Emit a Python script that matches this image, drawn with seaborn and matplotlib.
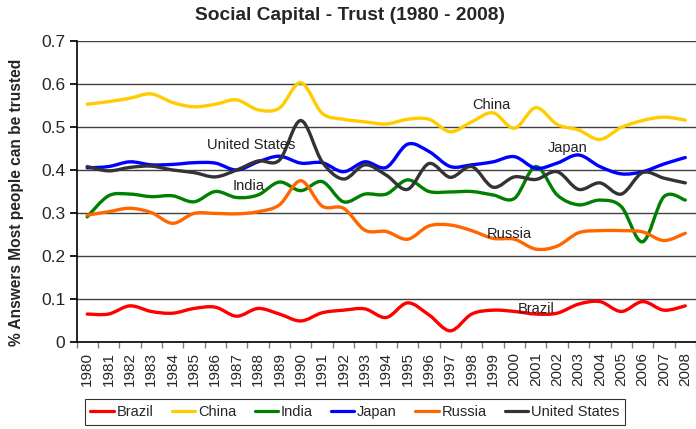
import numpy as np
import pandas as pd
import matplotlib
matplotlib.use("Agg")
import matplotlib.pyplot as plt
from matplotlib.path import Path
from matplotlib.patches import PathPatch
import seaborn as sns

years = list(range(1980, 2009))

brazil = [0.065, 0.065, 0.084, 0.071, 0.067, 0.078, 0.081, 0.060, 0.078, 0.065,
          0.049, 0.068, 0.074, 0.077, 0.057, 0.091, 0.063, 0.026, 0.065, 0.074,
          0.071, 0.065, 0.067, 0.088, 0.094, 0.071, 0.094, 0.074, 0.084]
china = [0.553, 0.559, 0.567, 0.577, 0.557, 0.547, 0.553, 0.563, 0.540, 0.544,
         0.603, 0.532, 0.518, 0.512, 0.507, 0.518, 0.518, 0.489, 0.512, 0.533,
         0.497, 0.545, 0.506, 0.493, 0.471, 0.499, 0.515, 0.523, 0.516]
india = [0.291, 0.340, 0.344, 0.338, 0.340, 0.326, 0.350, 0.336, 0.342, 0.372,
         0.352, 0.373, 0.326, 0.344, 0.344, 0.377, 0.350, 0.349, 0.350, 0.342,
         0.334, 0.408, 0.342, 0.319, 0.330, 0.315, 0.233, 0.338, 0.330]
japan = [0.405, 0.408, 0.419, 0.412, 0.413, 0.417, 0.416, 0.400, 0.419, 0.432,
         0.416, 0.417, 0.396, 0.419, 0.406, 0.460, 0.443, 0.408, 0.412, 0.419,
         0.431, 0.404, 0.416, 0.435, 0.408, 0.391, 0.396, 0.414, 0.429]
russia = [0.295, 0.303, 0.311, 0.301, 0.276, 0.299, 0.299, 0.298, 0.303, 0.319,
          0.375, 0.316, 0.311, 0.260, 0.257, 0.239, 0.270, 0.272, 0.259, 0.241,
          0.239, 0.216, 0.223, 0.254, 0.259, 0.259, 0.256, 0.236, 0.253]
united_states = [0.408, 0.398, 0.406, 0.409, 0.400, 0.394, 0.384, 0.400, 0.421, 0.423,
                 0.515, 0.419, 0.379, 0.412, 0.388, 0.355, 0.415, 0.383, 0.408, 0.360,
                 0.384, 0.378, 0.396, 0.355, 0.370, 0.344, 0.394, 0.381, 0.370]

countries = ["Brazil", "China", "India", "Japan", "Russia", "United States"]
colors = ["#FF0000", "#FFCC00", "#008000", "#0000FF", "#FF6600", "#333333"]
series = [brazil, china, india, japan, russia, united_states]

rows = []
for name, vals in zip(countries, series):
    for i, v in enumerate(vals):
        rows.append({"idx": i, "Year": years[i], "Country": name, "Value": v})
df = pd.DataFrame(rows)

sns.set_theme(style="white")
plt.rcParams["font.family"] = ["Liberation Sans", "DejaVu Sans"]

fig = plt.figure(figsize=(6.96, 4.29), dpi=100)
ax = fig.add_axes([76.5 / 696, 1 - 342 / 429, 1 - 76.5 / 696, (342 - 41) / 429])

sns.lineplot(data=df, x="idx", y="Value", hue="Country", hue_order=countries,
             palette=colors, linewidth=2.3, ax=ax, legend=False, zorder=3)


def smooth_path(xs, ys):
    # Excel-style smoothed line: cubic Bezier segments through the data points
    pts = np.column_stack([xs, ys])
    n = len(pts)
    verts = [pts[0]]
    codes = [Path.MOVETO]
    for i in range(n - 1):
        p0 = pts[i - 1] if i > 0 else pts[i]
        p1 = pts[i]
        p2 = pts[i + 1]
        p3 = pts[i + 2] if i + 2 < n else pts[i + 1]
        c1 = p1 + (p2 - p0) / 6.0
        c2 = p2 - (p3 - p1) / 6.0
        verts += [c1, c2, p2]
        codes += [Path.CURVE4] * 3
    return Path(verts, codes)


for line, col in zip(ax.get_lines(), colors):
    xd, yd = line.get_xdata(), line.get_ydata()
    patch = PathPatch(smooth_path(np.asarray(xd, float), np.asarray(yd, float)),
                      facecolor="none", edgecolor=col, linewidth=2.4,
                      capstyle="round", joinstyle="round", zorder=3)
    ax.add_patch(patch)
    line.set_visible(False)

ax.set_xlim(-0.5, 28.18)
ax.set_ylim(0, 0.7)
ax.set_yticks(np.arange(0, 0.71, 0.1))
ax.set_yticklabels(["0", "0.1", "0.2", "0.3", "0.4", "0.5", "0.6", "0.7"], fontsize=12.5)
ax.yaxis.grid(True, color="#404040", linewidth=1.0)
ax.set_axisbelow(True)

ax.set_xticks(range(len(years)))
ax.set_xticklabels([str(y) for y in years], rotation=90, fontsize=11)
ax.set_xticks(np.arange(-0.5, 29, 1), minor=True)
ax.tick_params(axis="x", which="major", length=0, pad=7)
ax.tick_params(axis="x", which="minor", length=4, color="#808080", direction="out", bottom=True)
ax.tick_params(axis="y", which="major", length=5, color="black", direction="out", left=True, pad=3)

for s in ["top", "right"]:
    ax.spines[s].set_visible(False)
ax.spines["left"].set_color("black")
ax.spines["bottom"].set_color("black")
ax.spines["left"].set_linewidth(1.2)
ax.spines["bottom"].set_linewidth(1.2)

ax.set_xlabel("")
ax.set_ylabel("% Answers Most people can be trusted", fontsize=11.2, fontweight="bold", labelpad=10)
ax.yaxis.set_label_coords(-0.084, 0.465)

fig.suptitle("Social Capital - Trust (1980 - 2008)", fontsize=13.8, fontweight="bold",
             x=0.503, y=0.983)

labels = [("China", 18.9, 0.551), ("United States", 7.7, 0.458), ("India", 7.56, 0.363),
          ("Japan", 22.47, 0.451), ("Russia", 19.78, 0.251), ("Brazil", 21.03, 0.077)]
for txt, lx, ly in labels:
    ax.text(lx, ly, txt, fontsize=10.5, ha="center", va="center", color="#222222", zorder=4)

handles = [plt.Line2D([], [], color=c, linewidth=2.3) for c in colors]
leg = fig.legend(handles, countries, loc="center", bbox_to_anchor=(0.51, 1 - 412 / 429),
                 ncol=6, fontsize=10.5, frameon=True, fancybox=False, handlelength=1.6,
                 handletextpad=0.2, columnspacing=1.25, borderpad=0.4)
leg.get_frame().set_edgecolor("black")
leg.get_frame().set_linewidth(0.8)

fig.savefig("out.png", dpi=100)
